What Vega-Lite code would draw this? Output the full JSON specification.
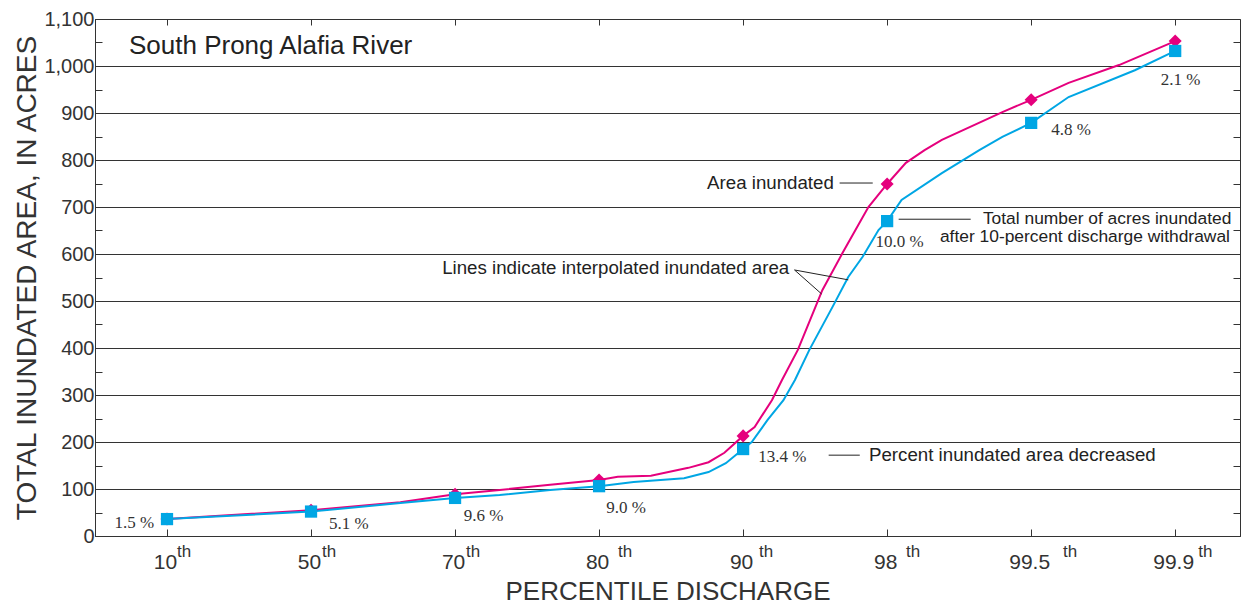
{
  "$schema": "https://vega.github.io/schema/vega-lite/v6.json",
  "width": 1145,
  "height": 517,
  "autosize": {"type": "none"},
  "padding": {"left": 95, "top": 19, "right": 1, "bottom": 68},
  "background": "white",
  "config": {"view": {"stroke": "#333", "strokeWidth": 1}, "font": "Liberation Sans"},
  "datasets": {
    "lines": [
      {"series": "Area inundated", "idx": 0, "value": 36},
      {"series": "Area inundated", "idx": 1, "value": 55},
      {"series": "Area inundated", "idx": 1.62, "value": 72},
      {"series": "Area inundated", "idx": 2, "value": 89},
      {"series": "Area inundated", "idx": 2.31, "value": 98},
      {"series": "Area inundated", "idx": 2.66, "value": 109},
      {"series": "Area inundated", "idx": 3, "value": 119},
      {"series": "Area inundated", "idx": 3.13, "value": 126},
      {"series": "Area inundated", "idx": 3.36, "value": 128},
      {"series": "Area inundated", "idx": 3.62, "value": 145},
      {"series": "Area inundated", "idx": 3.76, "value": 157},
      {"series": "Area inundated", "idx": 3.87, "value": 177},
      {"series": "Area inundated", "idx": 4, "value": 213},
      {"series": "Area inundated", "idx": 4.08, "value": 232},
      {"series": "Area inundated", "idx": 4.2, "value": 289},
      {"series": "Area inundated", "idx": 4.27, "value": 332},
      {"series": "Area inundated", "idx": 4.38, "value": 396},
      {"series": "Area inundated", "idx": 4.55, "value": 523},
      {"series": "Area inundated", "idx": 4.69, "value": 602},
      {"series": "Area inundated", "idx": 4.87, "value": 700},
      {"series": "Area inundated", "idx": 5, "value": 749},
      {"series": "Area inundated", "idx": 5.13, "value": 794},
      {"series": "Area inundated", "idx": 5.26, "value": 821},
      {"series": "Area inundated", "idx": 5.38, "value": 843},
      {"series": "Area inundated", "idx": 5.8, "value": 902},
      {"series": "Area inundated", "idx": 6, "value": 928},
      {"series": "Area inundated", "idx": 6.26, "value": 964},
      {"series": "Area inundated", "idx": 6.61, "value": 1002},
      {"series": "Area inundated", "idx": 7, "value": 1053},
      {"series": "After withdrawal", "idx": 0, "value": 36},
      {"series": "After withdrawal", "idx": 1, "value": 52},
      {"series": "After withdrawal", "idx": 1.62, "value": 70},
      {"series": "After withdrawal", "idx": 2, "value": 81},
      {"series": "After withdrawal", "idx": 2.31, "value": 87},
      {"series": "After withdrawal", "idx": 2.66, "value": 98},
      {"series": "After withdrawal", "idx": 3, "value": 106},
      {"series": "After withdrawal", "idx": 3.24, "value": 115},
      {"series": "After withdrawal", "idx": 3.59, "value": 123},
      {"series": "After withdrawal", "idx": 3.76, "value": 136},
      {"series": "After withdrawal", "idx": 3.88, "value": 155},
      {"series": "After withdrawal", "idx": 4, "value": 185},
      {"series": "After withdrawal", "idx": 4.06, "value": 200},
      {"series": "After withdrawal", "idx": 4.17, "value": 247},
      {"series": "After withdrawal", "idx": 4.28, "value": 289},
      {"series": "After withdrawal", "idx": 4.36, "value": 332},
      {"series": "After withdrawal", "idx": 4.46, "value": 396},
      {"series": "After withdrawal", "idx": 4.62, "value": 487},
      {"series": "After withdrawal", "idx": 4.73, "value": 551},
      {"series": "After withdrawal", "idx": 4.83, "value": 594},
      {"series": "After withdrawal", "idx": 4.94, "value": 651},
      {"series": "After withdrawal", "idx": 5, "value": 670},
      {"series": "After withdrawal", "idx": 5.1, "value": 715},
      {"series": "After withdrawal", "idx": 5.38, "value": 772},
      {"series": "After withdrawal", "idx": 5.64, "value": 821},
      {"series": "After withdrawal", "idx": 5.8, "value": 849},
      {"series": "After withdrawal", "idx": 6, "value": 879},
      {"series": "After withdrawal", "idx": 6.26, "value": 934},
      {"series": "After withdrawal", "idx": 6.72, "value": 991},
      {"series": "After withdrawal", "idx": 7, "value": 1032}
    ],
    "points": [
      {"series": "Area inundated", "idx": 0, "value": 36},
      {"series": "Area inundated", "idx": 1, "value": 55},
      {"series": "Area inundated", "idx": 2, "value": 89},
      {"series": "Area inundated", "idx": 3, "value": 119},
      {"series": "Area inundated", "idx": 4, "value": 213},
      {"series": "Area inundated", "idx": 5, "value": 749},
      {"series": "Area inundated", "idx": 6, "value": 928},
      {"series": "Area inundated", "idx": 7, "value": 1053},
      {"series": "After withdrawal", "idx": 0, "value": 36},
      {"series": "After withdrawal", "idx": 1, "value": 52},
      {"series": "After withdrawal", "idx": 2, "value": 81},
      {"series": "After withdrawal", "idx": 3, "value": 106},
      {"series": "After withdrawal", "idx": 4, "value": 185},
      {"series": "After withdrawal", "idx": 5, "value": 670},
      {"series": "After withdrawal", "idx": 6, "value": 879},
      {"series": "After withdrawal", "idx": 7, "value": 1032}
    ],
    "pct": [
      {"label": "1.5 %", "idx": -0.09, "value": 27, "side": "right"},
      {"label": "5.1 %", "idx": 1.125, "value": 26, "side": "left"},
      {"label": "9.6 %", "idx": 2.06, "value": 43, "side": "left"},
      {"label": "9.0 %", "idx": 3.05, "value": 60, "side": "left"},
      {"label": "13.4 %", "idx": 4.105, "value": 168, "side": "left"},
      {"label": "10.0 %", "idx": 4.92, "value": 626, "side": "left"},
      {"label": "4.8 %", "idx": 6.14, "value": 864, "side": "left"},
      {"label": "2.1 %", "idx": 6.9, "value": 970, "side": "left"}
    ],
    "notes": [
      {"label": "Area inundated", "idx": 4.63, "value": 751, "side": "right", "kind": "big"},
      {"label": "Total number of acres inundated", "idx": 7.39, "value": 674, "side": "right", "kind": "small"},
      {"label": "after 10-percent discharge withdrawal", "idx": 7.38, "value": 636, "side": "right", "kind": "small"},
      {"label": "Lines indicate interpolated inundated area", "idx": 4.32, "value": 570, "side": "right", "kind": "big"},
      {"label": "Percent inundated area decreased", "idx": 4.874, "value": 172, "side": "left", "kind": "big"}
    ],
    "leaders": [
      {"x1": 4.67, "x2": 4.9, "y1": 751, "y2": 751},
      {"x1": 5.08, "x2": 5.58, "y1": 674, "y2": 674},
      {"x1": 4.357, "x2": 4.545, "y1": 566, "y2": 515},
      {"x1": 4.357, "x2": 4.73, "y1": 566, "y2": 545},
      {"x1": 4.594, "x2": 4.81, "y1": 172, "y2": 172}
    ],
    "sups": [
      {"idx": 0.118, "sup": "th"},
      {"idx": 1.125, "sup": "th"},
      {"idx": 2.126, "sup": "th"},
      {"idx": 3.18, "sup": "th"},
      {"idx": 4.16, "sup": "th"},
      {"idx": 5.18, "sup": "th"},
      {"idx": 6.27, "sup": "th"},
      {"idx": 7.21, "sup": "th"}
    ],
    "title": [
      {"label": "South Prong Alafia River", "idx": -0.264, "value": 1043}
    ]
  },
  "layer": [
    {
      "data": {"name": "lines"},
      "mark": {"type": "line", "strokeWidth": 2},
      "encoding": {
        "x": {
          "field": "idx", "type": "quantitative",
          "scale": {"domain": [-0.5, 7.45], "nice": false, "zero": false},
          "axis": {
            "orient": "bottom",
            "values": [0, 1, 2, 3, 4, 5, 6, 7],
            "labelExpr": "['10','50','70','80','90','98','99.5','99.9'][datum.value]",
            "grid": false,
            "tickSize": -7,
            "tickColor": "#333",
            "domainColor": "#333",
            "labelFontSize": 21,
            "labelColor": "#333",
            "labelPadding": 22,
            "labelOffset": -2,
            "labelOverlap": false,
            "title": "PERCENTILE DISCHARGE",
            "titleFontSize": 26,
            "titleFontWeight": "normal",
            "titleColor": "#333",
            "titlePadding": 6
          }
        },
        "y": {
          "field": "value", "type": "quantitative",
          "scale": {"domain": [0, 1100], "nice": false},
          "axis": {
            "orient": "left",
            "values": [0, 50, 100, 150, 200, 250, 300, 350, 400, 450, 500, 550, 600, 650, 700, 750, 800, 850, 900, 950, 1000, 1050, 1100],
            "labelExpr": "datum.value % 100 === 0 ? format(datum.value, ',') : ''",
            "grid": true,
            "gridColor": "#333",
            "gridOpacity": {"condition": {"test": "datum.value % 100 === 0", "value": 1}, "value": 0},
            "tickSize": -7,
            "tickColor": "#333",
            "domainColor": "#333",
            "labelFontSize": 20,
            "labelColor": "#333",
            "labelPadding": 8,
            "labelOverlap": false,
            "title": "TOTAL INUNDATED AREA, IN ACRES",
            "titleFontSize": 28,
            "titleFontWeight": "normal",
            "titleColor": "#333",
            "titlePadding": 2
          }
        },
        "color": {
          "field": "series", "type": "nominal",
          "scale": {"domain": ["Area inundated", "After withdrawal"], "range": ["#E5007D", "#00A6E4"]},
          "legend": null
        }
      }
    },
    {
      "data": {"name": "points"},
      "transform": [{"filter": "datum.series === 'Area inundated'"}],
      "mark": {"type": "point", "shape": "diamond", "filled": true, "size": 170, "color": "#E5007D", "opacity": 1},
      "encoding": {
        "x": {
          "field": "idx", "type": "quantitative",
          "axis": {"orient": "top", "values": [0, 1, 2, 3, 4, 5, 6, 7], "labels": false, "domain": false, "grid": false, "tickSize": -6, "tickColor": "#333", "title": null}
        },
        "y": {
          "field": "value", "type": "quantitative",
          "axis": {"orient": "right", "values": [50, 150, 250, 350, 450, 550, 650, 750, 850, 950, 1050], "labels": false, "domain": false, "grid": false, "tickSize": -7, "tickColor": "#333", "title": null}
        }
      }
    },
    {
      "data": {"name": "points"},
      "transform": [{"filter": "datum.series === 'After withdrawal'"}],
      "mark": {"type": "square", "filled": true, "size": 150, "color": "#00A6E4", "opacity": 1},
      "encoding": {
        "x": {"field": "idx", "type": "quantitative", "axis": null},
        "y": {"field": "value", "type": "quantitative", "axis": null}
      }
    },
    {
      "data": {"name": "leaders"},
      "mark": {"type": "rule", "color": "#222", "strokeWidth": 1},
      "encoding": {
        "x": {"field": "x1", "type": "quantitative", "axis": null},
        "x2": {"field": "x2"},
        "y": {"field": "y1", "type": "quantitative", "axis": null},
        "y2": {"field": "y2"}
      }
    },
    {
      "data": {"name": "pct"},
      "transform": [{"filter": "datum.side === 'left'"}],
      "mark": {"type": "text", "font": "Liberation Serif", "fontSize": 17, "color": "#333", "baseline": "middle", "align": "left"},
      "encoding": {
        "x": {"field": "idx", "type": "quantitative", "axis": null},
        "y": {"field": "value", "type": "quantitative", "axis": null},
        "text": {"field": "label"}
      }
    },
    {
      "data": {"name": "pct"},
      "transform": [{"filter": "datum.side === 'right'"}],
      "mark": {"type": "text", "font": "Liberation Serif", "fontSize": 17, "color": "#333", "baseline": "middle", "align": "right"},
      "encoding": {
        "x": {"field": "idx", "type": "quantitative", "axis": null},
        "y": {"field": "value", "type": "quantitative", "axis": null},
        "text": {"field": "label"}
      }
    },
    {
      "data": {"name": "notes"},
      "transform": [{"filter": "datum.side === 'right' && datum.kind === 'big'"}],
      "mark": {"type": "text", "font": "Liberation Sans", "fontSize": 18.7, "color": "#222", "baseline": "middle", "align": "right"},
      "encoding": {
        "x": {"field": "idx", "type": "quantitative", "axis": null},
        "y": {"field": "value", "type": "quantitative", "axis": null},
        "text": {"field": "label"}
      }
    },
    {
      "data": {"name": "notes"},
      "transform": [{"filter": "datum.side === 'right' && datum.kind === 'small'"}],
      "mark": {"type": "text", "font": "Liberation Sans", "fontSize": 17.4, "color": "#222", "baseline": "middle", "align": "right"},
      "encoding": {
        "x": {"field": "idx", "type": "quantitative", "axis": null},
        "y": {"field": "value", "type": "quantitative", "axis": null},
        "text": {"field": "label"}
      }
    },
    {
      "data": {"name": "notes"},
      "transform": [{"filter": "datum.side === 'left'"}],
      "mark": {"type": "text", "font": "Liberation Sans", "fontSize": 18.7, "color": "#222", "baseline": "middle", "align": "left"},
      "encoding": {
        "x": {"field": "idx", "type": "quantitative", "axis": null},
        "y": {"field": "value", "type": "quantitative", "axis": null},
        "text": {"field": "label"}
      }
    },
    {
      "data": {"name": "title"},
      "mark": {"type": "text", "font": "Liberation Sans", "fontSize": 26, "color": "#222", "baseline": "middle", "align": "left"},
      "encoding": {
        "x": {"field": "idx", "type": "quantitative", "axis": null},
        "y": {"field": "value", "type": "quantitative", "axis": null},
        "text": {"field": "label"}
      }
    },
    {
      "data": {"name": "sups"},
      "mark": {"type": "text", "font": "Liberation Sans", "fontSize": 17, "color": "#333", "baseline": "alphabetic", "align": "center", "dy": 21},
      "encoding": {
        "x": {"field": "idx", "type": "quantitative", "axis": null},
        "y": {"datum": 0, "type": "quantitative", "axis": null},
        "text": {"field": "sup"}
      }
    }
  ],
  "resolve": {"axis": {"x": "independent", "y": "independent"}}
}
